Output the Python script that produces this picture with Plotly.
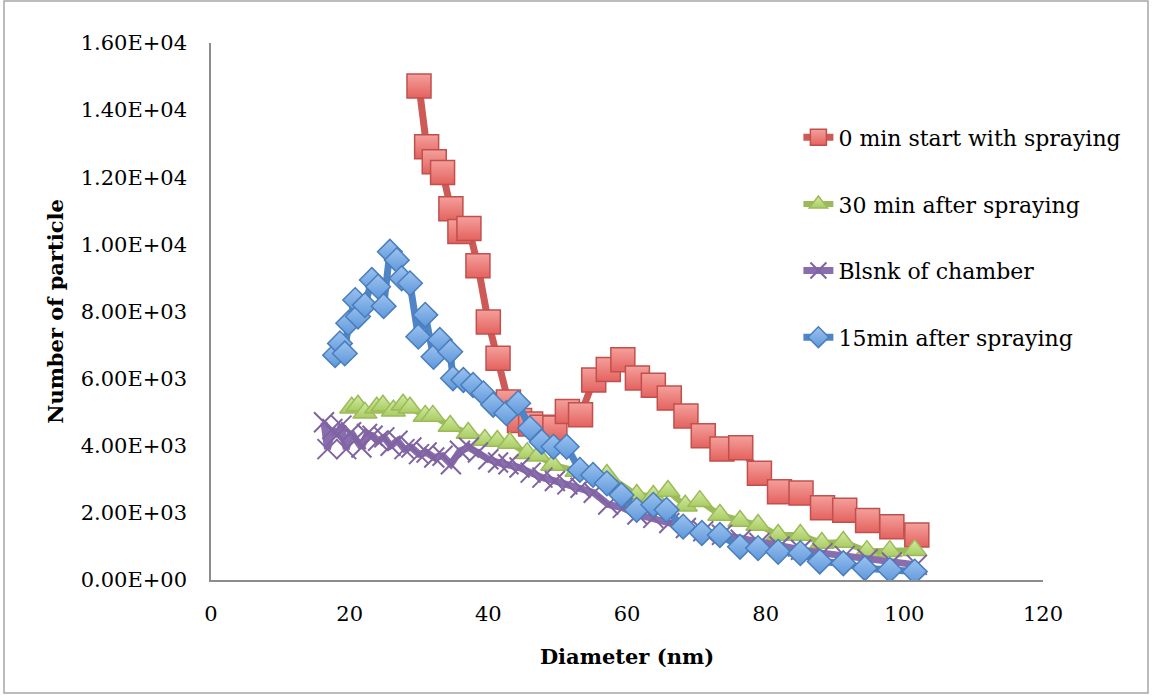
import plotly.graph_objects as go

# Particle size distributions (diameter in nm, particle counts)
red_name = "0 min start with spraying"
red_d = [30.0, 31.1, 32.2, 33.4, 34.6, 35.9, 37.2, 38.5, 40.0, 41.4, 42.9, 44.5, 46.1, 47.8,
         49.6, 51.4, 53.3, 55.2, 57.3, 59.4, 61.5, 63.8, 66.1, 68.5, 71.0, 73.7, 76.4, 79.1,
         82.0, 85.1, 88.2, 91.4, 94.7, 98.2, 101.8]
red_v = [14720, 12910, 12460, 12140, 11060, 10380, 10470, 9360, 7690, 6610, 5300, 4750, 4650,
         4550, 4530, 5020, 4920, 5960, 6270, 6560, 6020, 5800, 5420, 4890, 4300, 3900, 3940,
         3180, 2630, 2590, 2150, 2080, 1770, 1590, 1340]

green_name = "30 min after spraying"
green_d = [20.3, 21.2, 22.2, 23.9, 24.8, 26.3, 27.7, 28.7, 30.9, 32.0, 34.5, 37.1, 39.5, 41.3,
           43.1, 45.6, 47.2, 49.3, 52.8, 57.1, 61.4, 63.8, 65.9, 68.4, 70.5, 73.4, 76.3, 78.9,
           81.8, 85.0, 88.1, 91.2, 94.6, 97.9, 101.5]
green_v = [5130, 5190, 4980, 5130, 5190, 5040, 5220, 5130, 4890, 4890, 4590, 4380, 4170, 4140,
           4080, 3780, 3700, 3430, 3250, 3130, 2530, 2500, 2650, 2210, 2350, 1940, 1760, 1640,
           1340, 1340, 1100, 1130, 860, 860, 890]

purple_name = "Blsnk of chamber"
purple_d = [16.3, 16.8, 17.5, 18.1, 18.8, 19.5, 20.2, 20.9, 21.7, 22.5, 23.3, 24.1, 25.0, 25.9,
            26.9, 27.9, 28.9, 30.0, 31.1, 32.2, 33.4, 34.6, 35.9, 37.2, 38.5, 40.0, 41.4, 42.9,
            44.5, 46.1, 47.8, 49.6, 51.4, 53.3, 55.2, 57.3, 59.4, 61.5, 63.8, 66.1, 68.5, 71.0,
            73.7, 76.4, 79.1, 82.0, 85.1, 88.2, 91.4, 94.7, 98.2, 101.8]
purple_v = [4700, 3900, 4500, 4300, 4600, 3900, 4400, 4200, 3950, 4350, 4300, 4150, 4250, 4000,
            4150, 3900, 3950, 3750, 3800, 3650, 3700, 3450, 3850, 3950, 3800, 3600, 3500, 3450,
            3350, 3200, 3050, 2950, 2850, 2750, 2600, 2250, 2150, 1950, 1850, 1700, 1550, 1450,
            1350, 1200, 1100, 1000, 900, 800, 720, 620, 520, 450]

blue_name = "15min after spraying"
blue_d = [17.9, 18.6, 19.3, 19.8, 20.8, 21.2, 22.2, 23.2, 24.1, 24.9, 25.8, 26.8, 27.5, 28.7,
          29.9, 30.9, 32.1, 33.0, 34.5, 34.9, 36.4, 37.8, 39.3, 40.7, 42.6, 44.3, 46.0, 47.7,
          49.4, 51.3, 53.2, 55.1, 57.1, 59.2, 61.4, 63.8, 65.7, 68.1, 70.8, 73.4, 76.3, 78.9,
          81.8, 85.0, 87.8, 91.2, 94.3, 97.9, 101.5]
blue_v = [6700, 7050, 6750, 7650, 8340, 7850, 8190, 8940, 8740, 8160, 9780, 9530, 8990, 8840,
          7250, 7900, 6650, 7150, 6800, 6010, 5960, 5810, 5560, 5220, 4970, 5270, 4520, 4120,
          3970, 3970, 3280, 3130, 2880, 2530, 2090, 2240, 2090, 1590, 1400, 1340, 990, 950,
          840, 800, 550, 500, 350, 300, 250]

x_ticks = [0, 20, 40, 60, 80, 100, 120]
y_ticks = [0, 2000, 4000, 6000, 8000, 10000, 12000, 14000, 16000]
y_tick_text = ["0.00E+00", "2.00E+03", "4.00E+03", "6.00E+03", "8.00E+03",
               "1.00E+04", "1.20E+04", "1.40E+04", "1.60E+04"]

FONT = "DejaVu Serif"

fig = go.Figure()

fig.add_trace(go.Scatter(
    x=red_d, y=red_v, name=red_name, mode="lines+markers", legendgroup="a",
    line=dict(color="#CD5A56", width=7),
    marker=dict(symbol="square", size=24, color="#F4A09C",
                gradient=dict(type="vertical", color="#E4625E"),
                line=dict(color="#C0504D", width=1.5)),
))
fig.add_trace(go.Scatter(
    x=green_d, y=green_v, name=green_name, mode="lines+markers", legendgroup="b",
    line=dict(color="#9BBB59", width=6),
    marker=dict(symbol="triangle-up", size=21, color="#D2EAA2",
                gradient=dict(type="vertical", color="#A9CC62"),
                line=dict(color="#9BBB59", width=1.5)),
))
fig.add_trace(go.Scatter(
    x=purple_d, y=purple_v, name=purple_name, mode="lines+markers", legendgroup="c",
    line=dict(color="#8A6DAE", width=7),
    marker=dict(symbol="x-thin-open", size=20, color="#8064A2",
                line=dict(color="#8064A2", width=2)),
))
fig.add_trace(go.Scatter(
    x=blue_d, y=blue_v, name=blue_name, mode="lines+markers", legendgroup="d",
    line=dict(color="#4F85C6", width=7),
    marker=dict(symbol="diamond", size=19, color="#9CC3F0",
                gradient=dict(type="vertical", color="#5E97DB"),
                line=dict(color="#4A7EBB", width=1.5)),
))

axis_line = "#8C8C8C"
fig.update_layout(
    width=1153, height=696,
    margin=dict(l=211, r=110, t=43, b=116),
    paper_bgcolor="white", plot_bgcolor="white",
    font=dict(family=FONT, size=21, color="black"),
    showlegend=True,
    legend=dict(x=0.706, y=0.863, xanchor="left", yanchor="top",
                font=dict(family=FONT, size=22, color="black"),
                bgcolor="rgba(0,0,0,0)", tracegroupgap=35, traceorder="grouped",
                itemwidth=30),
    xaxis=dict(range=[0, 120], tickvals=x_ticks, ticktext=[str(t) for t in x_ticks],
               showgrid=False, zeroline=False, showline=True, linecolor=axis_line,
               linewidth=1.5, ticks="", ticklabelstandoff=14,
               title=dict(text="<b>Diameter (nm)</b>", font=dict(family=FONT, size=21),
                          standoff=24)),
    yaxis=dict(range=[0, 16000], tickvals=y_ticks, ticktext=y_tick_text,
               showgrid=False, zeroline=False, showline=True, linecolor=axis_line,
               linewidth=1.5, ticks="", ticklabelstandoff=18,
               title=dict(text="<b>Number of particle</b>", font=dict(family=FONT, size=21),
                          standoff=11)),
    shapes=[dict(type="rect", xref="paper", yref="paper",
                 x0=(4 - 211) / 832, x1=(1148 - 211) / 832,
                 y0=(580 - 693) / 537, y1=(580 - 1) / 537,
                 line=dict(color="#A6A6A6", width=1.5), fillcolor="rgba(0,0,0,0)",
                 layer="below")],
)

fig.write_html("out.html")
